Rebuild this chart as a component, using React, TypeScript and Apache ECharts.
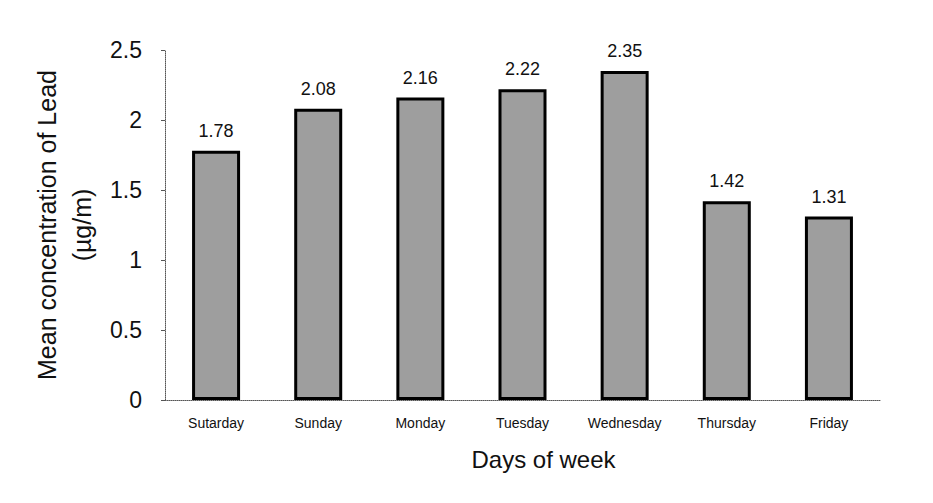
import React, { useEffect, useRef } from "react";
import * as echarts from "echarts";

const days = ["Sutarday", "Sunday", "Monday", "Tuesday", "Wednesday", "Thursday", "Friday"];
const leadValues = [1.78, 2.08, 2.16, 2.22, 2.35, 1.42, 1.31];
const valueLabels = ["1.78", "2.08", "2.16", "2.22", "2.35", "1.42", "1.31"];

export default function App() {
  const ref = useRef<HTMLDivElement>(null);
  useEffect(() => {
    document.body.style.margin = "0";
    if (!ref.current) return;
    const chart = echarts.init(ref.current, null, { renderer: "svg" });
    const font = "Liberation Sans, Arial, sans-serif";
    chart.setOption({
      animation: false,
      backgroundColor: "#ffffff",
      grid: { left: 165, right: 53, top: 50, bottom: 103, containLabel: false },
      xAxis: {
        type: "category",
        data: days,
        name: "Days of week",
        nameLocation: "middle",
        nameGap: 47,
        nameTextStyle: { fontFamily: font, fontSize: 24, color: "#111", padding: [0, 0, 0, 42] },
        axisLine: { lineStyle: { color: "#555", type: "dotted", width: 1 } },
        axisTick: { show: false },
        axisLabel: { fontFamily: font, fontSize: 14, color: "#111", margin: 16, interval: 0 },
      },
      yAxis: {
        type: "value",
        min: 0,
        max: 2.5,
        interval: 0.5,
        name: "Mean concentration of Lead\n(µg/m)",
        nameLocation: "middle",
        nameGap: 66,
        nameTextStyle: { fontFamily: font, fontSize: 25, color: "#111", lineHeight: 35 },
        axisLine: { show: true, lineStyle: { color: "#555", type: "dotted", width: 1 } },
        axisTick: { show: true, length: 4, lineStyle: { color: "#555" } },
        splitLine: { show: false },
        axisLabel: {
          fontFamily: font,
          fontSize: 23,
          color: "#111",
          margin: 23,
          formatter: (v: number) => String(v),
        },
      },
      series: [
        {
          type: "bar",
          data: leadValues,
          barWidth: "47%",
          itemStyle: { color: "#9e9e9e", borderColor: "#000", borderWidth: 3 },
          label: {
            show: true,
            position: "top",
            distance: 11,
            fontFamily: font,
            fontSize: 18,
            color: "#111",
            formatter: (p: any) => valueLabels[p.dataIndex],
          },
        },
      ],
    });
    return () => chart.dispose();
  }, []);
  return <div ref={ref} style={{ width: 933, height: 503 }} />;
}
